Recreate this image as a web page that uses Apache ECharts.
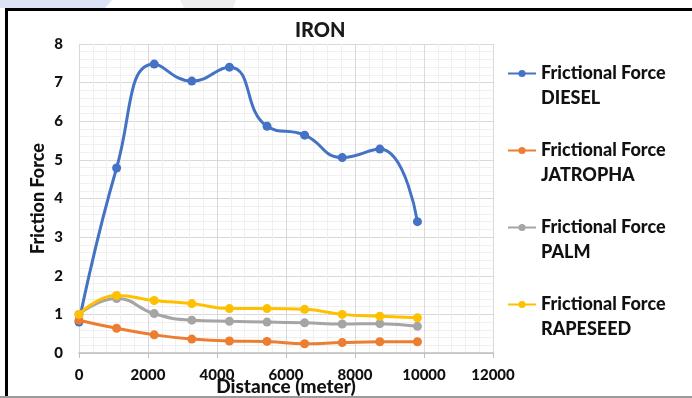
<!DOCTYPE html>
<html>
<head>
<meta charset="utf-8">
<script src="https://cdn.jsdelivr.net/npm/echarts@6/dist/echarts.min.js"></script>
<style>
html,body{margin:0;padding:0;background:#fff;overflow:hidden;}
#wrap{position:relative;width:692px;height:398px;overflow:hidden;}
#c{position:absolute;left:0;top:0;width:692px;height:398px;z-index:1;}
.bd{position:absolute;pointer-events:none;z-index:10;}
#bl{left:5px;top:8px;width:3px;height:390px;background:#000;}
#bt{left:5px;top:8px;width:687px;height:3px;background:#000;}
#bb{left:0;top:396px;width:692px;height:2px;background:#9a9a9a;}
</style>
</head>
<body>
<div id="wrap">
<div id="c"></div>
<div id="bt" class="bd"></div>
<div id="bl" class="bd"></div>
<div id="bb" class="bd"></div>
</div>
<script>
const distances = [0, 1090, 2180, 3270, 4360, 5450, 6540, 7630, 8720, 9810];
const diesel    = [0.80, 4.79, 7.48, 7.04, 7.40, 5.87, 5.64, 5.06, 5.28, 3.40];
const jatropha  = [0.85, 0.64, 0.47, 0.36, 0.31, 0.30, 0.24, 0.27, 0.29, 0.29];
const palm      = [1.00, 1.41, 1.02, 0.85, 0.82, 0.80, 0.78, 0.75, 0.76, 0.69];
const rapeseed  = [1.00, 1.49, 1.36, 1.28, 1.15, 1.15, 1.13, 1.00, 0.95, 0.91];
const seriesNames = ['Frictional Force DIESEL', 'Frictional Force JATROPHA', 'Frictional Force PALM', 'Frictional Force RAPESEED'];
const seriesValues = [diesel, jatropha, palm, rapeseed];
const colors = ['#4472C4', '#ED7D31', '#A5A5A5', '#FFC000'];

const FONT = 'Lato';
const W = 900;
const chart = echarts.init(document.getElementById('c'), null, {renderer: 'canvas'});

const series = seriesNames.map((name, i) => ({
  name: name,
  type: 'line',
  smooth: 0.5,
  symbol: 'circle',
  symbolSize: 9,
  data: distances.map((d, j) => [d, seriesValues[i][j]]),
  lineStyle: {width: 3, color: colors[i]},
  itemStyle: {color: colors[i]},
  z: 2 + i
}));

chart.setOption({
  backgroundColor: '#ffffff',
  animation: false,
  color: colors,
  title: {
    text: 'IRON',
    left: 290,
    top: 16,
    textStyle: {fontFamily: FONT, fontWeight: W, fontSize: 20, color: '#1a1a1a'}
  },
  grid: {left: 79, right: 199, top: 44, bottom: 45, containLabel: false, outerBoundsMode: 'none'},
  xAxis: {
    type: 'value',
    min: 0, max: 12000, interval: 2000,
    name: 'Distance (meter)',
    nameLocation: 'middle',
    nameMoveOverlap: false,
    nameGap: 24,
    nameTextStyle: {fontFamily: FONT, fontWeight: W, fontSize: 19, color: '#111', lineHeight: 19},
    axisLine: {show: true, lineStyle: {color: '#bfbfbf', width: 1.5}},
    axisTick: {show: true, length: 5, lineStyle: {color: '#bfbfbf'}},
    axisLabel: {fontFamily: FONT, fontWeight: W, fontSize: 15, color: '#111', margin: 15,
      formatter: function (v) { return String(v); }},
    splitLine: {show: true, lineStyle: {color: '#d9d9d9', width: 1}},
    minorTick: {show: false, splitNumber: 5},
    minorSplitLine: {show: true, lineStyle: {color: '#f0f0f0', width: 1}}
  },
  yAxis: {
    type: 'value',
    min: 0, max: 8, interval: 1,
    name: 'Friction Force',
    nameLocation: 'middle',
    nameMoveOverlap: false,
    nameGap: 32,
    nameTextStyle: {fontFamily: FONT, fontWeight: W, fontSize: 18, color: '#111'},
    axisLine: {show: true, lineStyle: {color: '#d9d9d9'}},
    axisTick: {show: false},
    axisLabel: {fontFamily: FONT, fontWeight: W, fontSize: 15, color: '#111', margin: 16},
    splitLine: {show: true, lineStyle: {color: '#d9d9d9', width: 1}},
    minorTick: {show: false, splitNumber: 5},
    minorSplitLine: {show: true, lineStyle: {color: '#f0f0f0', width: 1}}
  },
  legend: {
    orient: 'vertical',
    left: 502,
    top: 31,
    itemWidth: 28,
    itemHeight: 9,
    itemGap: 2,
    data: seriesNames,
    formatter: function (name) {
      const k = name.lastIndexOf(' ');
      return '\n' + name.slice(0, k) + '\n' + name.slice(k + 1);
    },
    textStyle: {fontFamily: FONT, fontWeight: W, fontSize: 18, color: '#111', lineHeight: 25}
  },
  graphic: [
    {type: 'polygon', silent: true, z: -1, shape: {points: [[0, 0], [112, 0], [105, 8], [0, 8]]}, style: {fill: '#dde3f6'}},
    {type: 'polygon', silent: true, z: -1, shape: {points: [[180, 0], [236, 0], [233, 8], [184, 8]]}, style: {fill: '#eef0f0'}}
  ],
  series: series
});
</script>
</body>
</html>
